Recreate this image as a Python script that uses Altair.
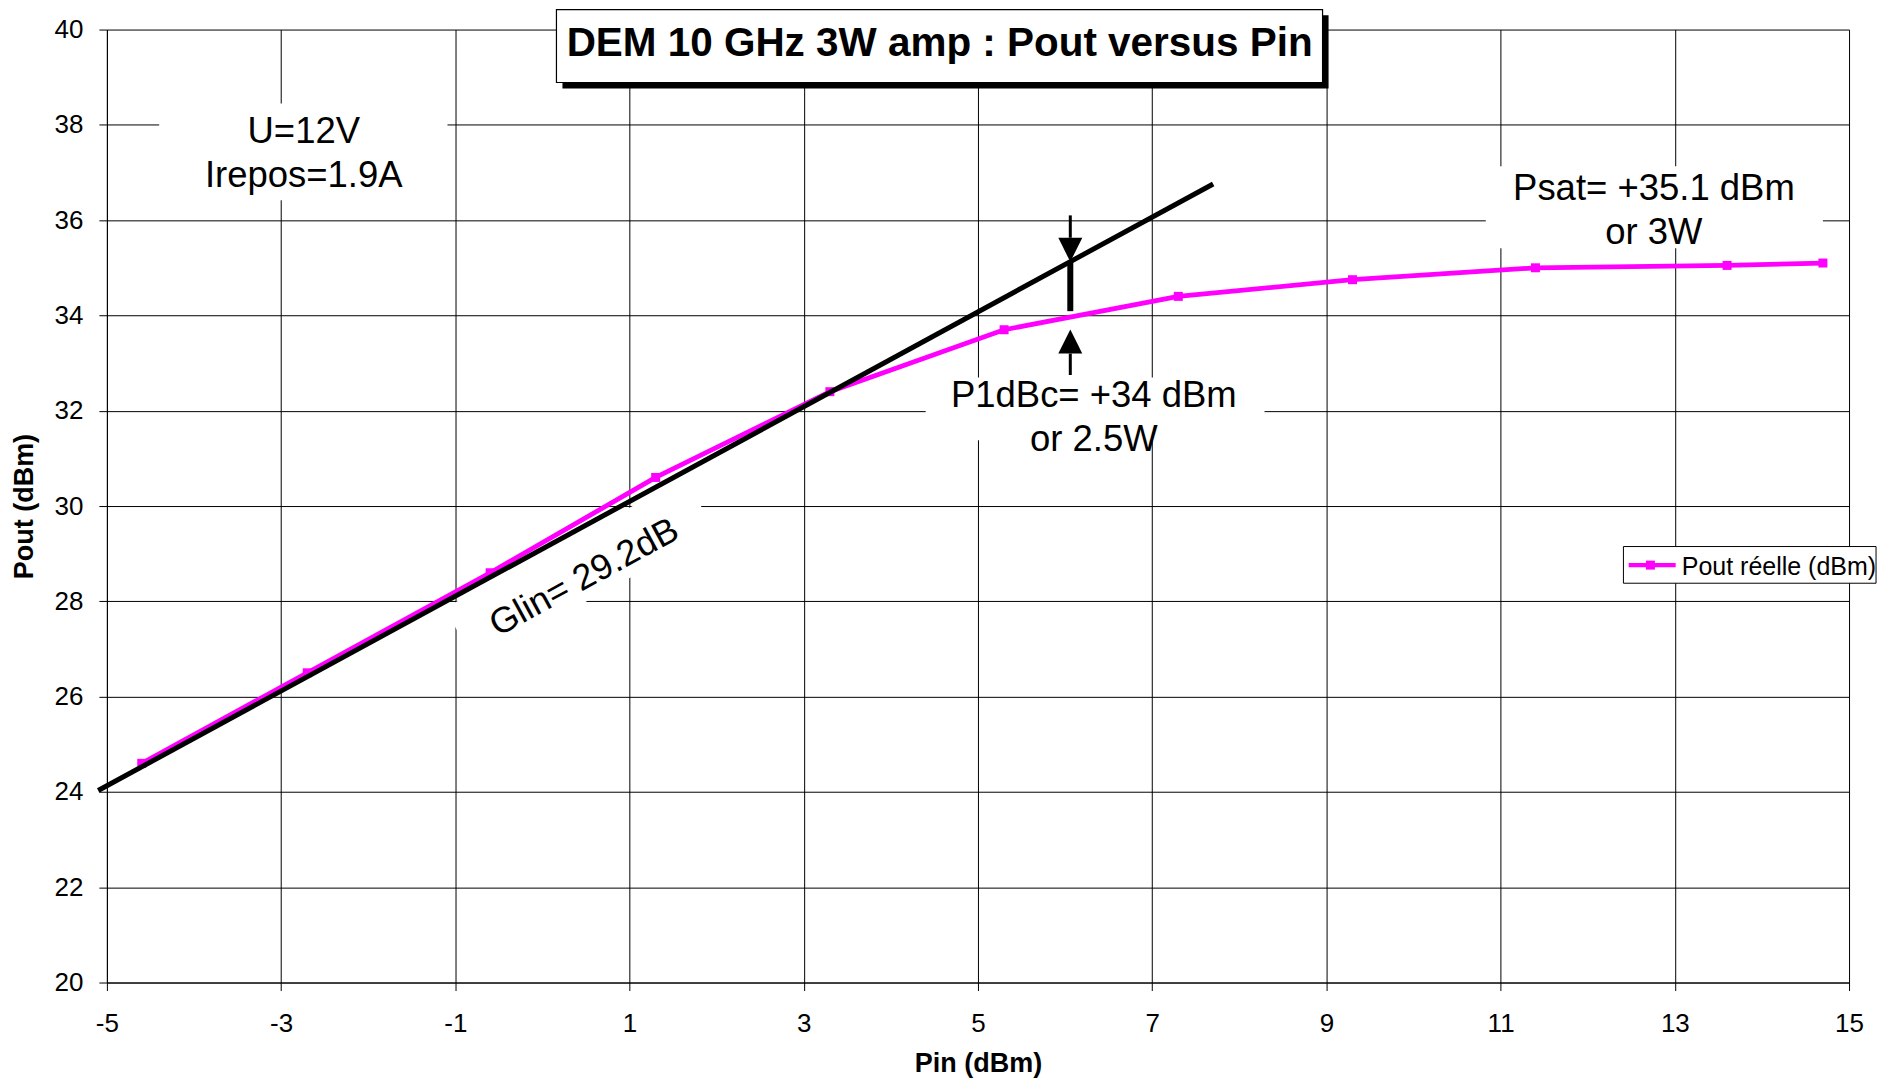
import altair as alt
import pandas as pd

# ---------------- data ----------------
pin_dbm = [-4.6, -2.7, -0.6, 1.3, 3.3, 5.3, 7.3, 9.3, 11.4, 13.6, 14.7]
pout_dbm = [24.6, 26.5, 28.6, 30.6, 32.4, 33.7, 34.4, 34.75, 35.0, 35.05, 35.1]
series_name = "Pout réelle (dBm)"

# linear gain reference line (Glin = 29.2 dB)
lin_pin = [-5.1, 7.7]
lin_pout = [24.03, 36.76]

# axes
x_ticks = [-5, -3, -1, 1, 3, 5, 7, 9, 11, 13, 15]
y_ticks = [20, 22, 24, 26, 28, 30, 32, 34, 36, 38, 40]
x_domain = [-5, 15]
y_domain = [20, 40]
x_title = "Pin (dBm)"
y_title = "Pout (dBm)"

# title (boxed, in data coordinates)
title_text = ["DEM 10 GHz 3W amp : Pout versus Pin"]
title_x = [4.56]
title_y = [39.44]
title_box = {"x": [0.161], "x2": [8.956], "y": [40.42], "y2": [38.889]}
shadow_box = {"x": [0.23], "x2": [9.025], "y": [40.30], "y2": [38.763]}

# annotation texts and their white boxes
note_texts = ["U=12V\nIrepos=1.9A", "P1dBc= +34 dBm\nor 2.5W", "Psat= +35.1 dBm\nor 3W"]
note_x = [-2.74, 6.33, 12.76]
note_y = [37.62, 32.08, 36.43]
note_box_x = [-4.40, 4.40, 10.83]
note_box_x2 = [-1.09, 8.29, 14.70]
note_box_y = [38.45, 32.70, 37.13]
note_box_y2 = [36.42, 31.38, 35.41]

gain_text = ["Glin= 29.2dB"]
gain_x = [0.48]
gain_y = [28.50]
gain_box_x = [0.43]
gain_box_y = [28.66]

# P1dB compression marker (arrows)
arrow_x = 6.06
thin_y = [36.10, 33.20]
thin_y2 = [35.63, 32.75]
bar_y = [35.12]
bar_y2 = [34.09]
head_down_y = [35.377]
head_up_y = [33.453]

# legend (drawn inside the plot like the original)
legend_box = {"x": [12.41], "x2": [15.31], "y": [29.15], "y2": [28.38]}
legend_line_x = [12.47, 13.01]
legend_line_y = [28.76, 28.76]
legend_marker_x = [12.72]
legend_text_x = [13.08]
legend_text_y = [28.553]

FONT = "Liberation Sans"
MAGENTA = "#FF00FF"

# ---------------- scales / axes ----------------
xscale = alt.Scale(domain=x_domain, nice=False, zero=False)
yscale = alt.Scale(domain=y_domain, nice=False, zero=False)
xaxis = alt.Axis(values=x_ticks, title=x_title, grid=True, labelFlush=False,
                 labelExpr="toString(datum.value)", tickSize=8, labelPadding=20,
                 titleY=89, titleBaseline="alphabetic")
yaxis = alt.Axis(values=y_ticks, title=y_title, grid=True,
                 labelExpr="toString(datum.value)", tickSize=8, labelPadding=16,
                 titleX=-82, titleBaseline="middle", titleAngle=270)


def X(f="x"):
    return alt.X(f"{f}:Q", scale=xscale, axis=xaxis)


def Y(f="y"):
    return alt.Y(f"{f}:Q", scale=yscale, axis=yaxis)


# ---------------- layers ----------------
shadow = alt.Chart(pd.DataFrame(shadow_box)).mark_rect(color="black").encode(
    x=X(), x2="x2:Q", y=Y(), y2="y2:Q")
tbox = alt.Chart(pd.DataFrame(title_box)).mark_rect(
    fill="white", stroke="black", strokeWidth=1.2).encode(
    x=X(), x2="x2:Q", y=Y(), y2="y2:Q")

notes_box_df = pd.DataFrame({"x": note_box_x, "x2": note_box_x2,
                             "y": note_box_y, "y2": note_box_y2})
nboxes = alt.Chart(notes_box_df).mark_rect(fill="white").encode(
    x=X(), x2="x2:Q", y=Y(), y2="y2:Q")

gbox = alt.Chart(pd.DataFrame({"x": gain_box_x, "y": gain_box_y})).mark_point(
    shape="M-1,-0.226H1V0.226H-1Z", filled=True, fill="white", opacity=1,
    size=75076, angle=331.5, strokeWidth=0).encode(x=X(), y=Y())

meas = pd.DataFrame({"x": pin_dbm, "y": pout_dbm})
mline = alt.Chart(meas).mark_line(color=MAGENTA, strokeWidth=4.8).encode(x=X(), y=Y())
mpts = alt.Chart(meas).mark_point(shape="square", filled=True, color=MAGENTA,
                                  opacity=1, size=81).encode(x=X(), y=Y())

lin = alt.Chart(pd.DataFrame({"x": lin_pin, "y": lin_pout})).mark_line(
    color="black", strokeWidth=5).encode(x=X(), y=Y())

thin = alt.Chart(pd.DataFrame({"x": [arrow_x] * 2, "y": thin_y, "y2": thin_y2})).mark_rule(
    color="black", strokeWidth=3).encode(x=X(), y=Y(), y2="y2:Q")
bar = alt.Chart(pd.DataFrame({"x": [arrow_x], "y": bar_y, "y2": bar_y2})).mark_rule(
    color="black", strokeWidth=6).encode(x=X(), y=Y(), y2="y2:Q")
hdown = alt.Chart(pd.DataFrame({"x": [arrow_x], "y": head_down_y})).mark_point(
    shape="M-1,-1L1,-1L0,1Z", filled=True, color="black", opacity=1, size=576).encode(x=X(), y=Y())
hup = alt.Chart(pd.DataFrame({"x": [arrow_x], "y": head_up_y})).mark_point(
    shape="M-1,1L1,1L0,-1Z", filled=True, color="black", opacity=1, size=576).encode(x=X(), y=Y())

notes = alt.Chart(pd.DataFrame({"x": note_x, "y": note_y, "t": note_texts})).mark_text(
    font=FONT, fontSize=36.5, color="black", align="center", baseline="alphabetic",
    lineBreak="\n", lineHeight=44.5).encode(x=X(), y=Y(), text="t:N")

gtxt = alt.Chart(pd.DataFrame({"x": gain_x, "y": gain_y, "t": gain_text})).mark_text(
    font=FONT, fontSize=36, color="black", align="center", baseline="middle",
    angle=331.5).encode(x=X(), y=Y(), text="t:N")

ttxt = alt.Chart(pd.DataFrame({"x": title_x, "y": title_y, "t": title_text})).mark_text(
    font=FONT, fontSize=40.5, fontWeight="bold", color="black", align="center",
    baseline="alphabetic").encode(x=X(), y=Y(), text="t:N")

lbox = alt.Chart(pd.DataFrame(legend_box)).mark_rect(
    fill="white", stroke="black", strokeWidth=1).encode(x=X(), x2="x2:Q", y=Y(), y2="y2:Q")
lline = alt.Chart(pd.DataFrame({"x": legend_line_x, "y": legend_line_y})).mark_line(
    color=MAGENTA, strokeWidth=4.5).encode(x=X(), y=Y())
lmark = alt.Chart(pd.DataFrame({"x": legend_marker_x, "y": [legend_line_y[0]]})).mark_point(
    shape="square", filled=True, color=MAGENTA, opacity=1, size=81).encode(x=X(), y=Y())
ltxt = alt.Chart(pd.DataFrame({"x": legend_text_x, "y": legend_text_y, "t": [series_name]})).mark_text(
    font=FONT, fontSize=25, color="black", align="left", baseline="alphabetic").encode(
    x=X(), y=Y(), text="t:N")

chart = alt.layer(
    nboxes, gbox, mline, mpts, lin, thin, bar, hdown, hup,
    notes, gtxt, shadow, tbox, ttxt, lbox, lline, lmark, ltxt
).properties(
    width=1744, height=954,
    autosize=alt.AutoSizeParams(type="none"),
    padding={"left": 99, "top": 21, "right": 30, "bottom": 95},
    background="white",
).configure_view(
    strokeWidth=0
).configure_axis(
    labelFont=FONT, labelFontSize=26, labelColor="black",
    titleFont=FONT, titleFontSize=27, titleFontWeight="bold", titleColor="black",
    gridColor="black", gridOpacity=1, gridWidth=1,
    domainColor="black", domainWidth=1, tickColor="black", tickWidth=1,
)

chart.save("out.html", embed_options={"renderer": "svg", "actions": False})
